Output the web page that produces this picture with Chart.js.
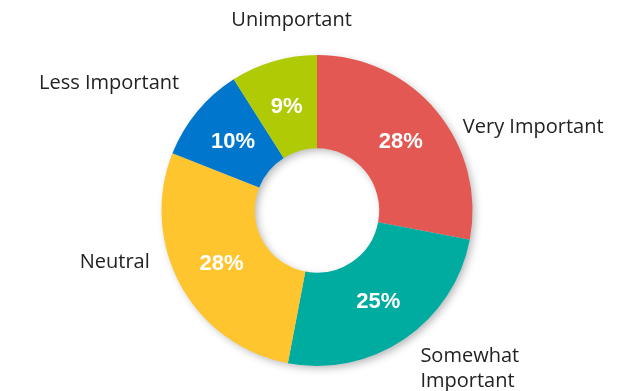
<!DOCTYPE html>
<html>
<head>
<meta charset="utf-8">
<script src="https://cdn.jsdelivr.net/npm/chart.js@4"></script>
<style>
  html, body { margin: 0; padding: 0; background: #fff; }
  #wrap { width: 631px; height: 391px; position: relative; }
</style>
</head>
<body>
<div id="wrap"><canvas id="importanceChart"></canvas></div>
<script>
// data
const categories = ['Very Important', 'Somewhat Important', 'Neutral', 'Less Important', 'Unimportant'];
const shares = [28, 25, 28, 10, 9];
const sliceColors = ['#E35852', '#00AB9F', '#FEC52E', '#0077CC', '#B0CB05'];

// nudges for the outside labels, relative to the slice's outer mid point
const labelNudge = [[26, 16], [16, 17], [-31, -23], [-18, -28], [18, -41]];

const ringShadow = {
    id: 'ringShadow',
    beforeDatasetsDraw(chart) {
        const arc = chart.getDatasetMeta(0).data[0];
        if (!arc) return;
        const { x, y, innerRadius, outerRadius } = arc.getProps(['x', 'y', 'innerRadius', 'outerRadius'], true);
        const ctx = chart.ctx;
        ctx.save();
        ctx.shadowColor = 'rgba(0,0,0,0.3)';
        ctx.shadowBlur = 8;
        ctx.shadowOffsetX = 3;
        ctx.shadowOffsetY = 3;
        ctx.fillStyle = '#ddd';
        ctx.beginPath();
        ctx.arc(x, y, outerRadius - 1, 0, Math.PI * 2);
        ctx.arc(x, y, innerRadius + 1, Math.PI * 2, 0, true);
        ctx.fill('evenodd');
        ctx.restore();
    }
};

const sliceLabels = {
    id: 'sliceLabels',
    afterDatasetsDraw(chart) {
        const ctx = chart.ctx;
        const meta = chart.getDatasetMeta(0);
        meta.data.forEach((arc, i) => {
            const p = arc.getProps(['x', 'y', 'startAngle', 'endAngle', 'innerRadius', 'outerRadius'], true);
            const mid = (p.startAngle + p.endAngle) / 2;
            const rIn = (p.innerRadius + p.outerRadius) / 2;
            ctx.save();
            // percent inside the ring
            ctx.fillStyle = '#fff';
            ctx.font = 'bold 22px "Liberation Sans Narrow", "Arial Narrow", "Liberation Sans", sans-serif';
            ctx.textAlign = 'center';
            ctx.textBaseline = 'middle';
            ctx.fillText(shares[i] + '%', p.x + Math.cos(mid) * rIn, p.y + Math.sin(mid) * rIn + 1);

            // category name outside
            const ox = p.x + Math.cos(mid) * p.outerRadius;
            const oy = p.y + Math.sin(mid) * p.outerRadius;
            const [dx, dy] = labelNudge[i];
            const c = Math.cos(mid);
            ctx.fillStyle = '#222';
            ctx.font = '20px "Open Sans", Lato, sans-serif';
            ctx.textAlign = Math.abs(c) < 0.35 ? 'center' : (c > 0 ? 'left' : 'right');
            const words = categories[i] === 'Somewhat Important' ? ['Somewhat', 'Important'] : [categories[i]];
            words.forEach((w, k) => ctx.fillText(w, ox + dx, oy + dy + k * 25));
            ctx.restore();
        });
    }
};

new Chart(document.getElementById('importanceChart'), {
    type: 'doughnut',
    data: {
        labels: categories,
        datasets: [{
            data: shares,
            backgroundColor: sliceColors,
            borderWidth: 0
        }]
    },
    options: {
        responsive: true,
        maintainAspectRatio: false,
        animation: false,
        cutout: '40%',
        layout: { padding: { top: 55, bottom: 25, left: 3, right: 0 } },
        plugins: {
            legend: { display: false },
            tooltip: { enabled: false }
        }
    },
    plugins: [ringShadow, sliceLabels]
});
</script>
</body>
</html>
